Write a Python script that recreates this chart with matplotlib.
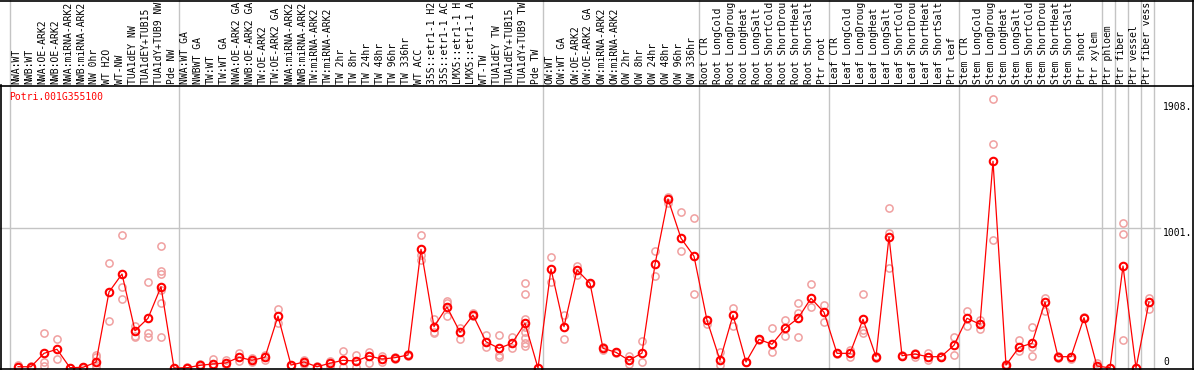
import matplotlib
matplotlib.use("Agg")
import matplotlib.pyplot as plt
from matplotlib.lines import Line2D
from matplotlib.transforms import blended_transform_factory

gene_id = "Potri.001G355100"

# sample names as shown in the reference (truncated to 14 characters)
samples = [
    "NWA:WT", "NWB:WT", "NWA:OE-ARK2", "NWB:OE-ARK2", "NWA:miRNA-ARK2", "NWB:miRNA-ARK2",
    "NW 0hr", "WT H2O", "WT-NW", "TUA1dEY NW", "TUA1dEY+TUB15", "TUA1dY+TUB9 NW", "Pde NW",
    "NWA:WT GA", "NWBWT GA", "TW:WT", "TW:WT GA", "NWA:OE-ARK2 GA", "NWB:OE-ARK2 GA",
    "TW:OE-ARK2", "TW:OE-ARK2 GA", "NWA:miRNA-ARK2", "NWB:miRNA-ARK2", "TW:miRNA-ARK2",
    "TW:miRNA-ARK2", "TW 2hr", "TW 8hr", "TW 24hr", "TW 48hr", "TW 96hr", "TW 336hr",
    "WT ACC", "35S::etr1-1 H2", "35S::etr1-1 AC", "LMX5::etr1-1 H", "LMX5::etr1-1 A",
    "WT-TW", "TUA1dEY TW", "TUA1dEY+TUB15", "TUA1dY+TUB9 TW", "Pde TW",
    "OW:WT", "OW:WT GA", "OW:OE-ARK2", "OW:OE-ARK2 GA", "OW:miRNA-ARK2", "OW:miRNA-ARK2",
    "OW 2hr", "OW 8hr", "OW 24hr", "OW 48hr", "OW 96hr", "OW 336hr",
    "Root CTR", "Root LongCold", "Root LongDroug", "Root LongHeat", "Root LongSalt",
    "Root ShortCold", "Root ShortDrou", "Root ShortHeat", "Root ShortSalt", "Ptr root",
    "Leaf CTR", "Leaf LongCold", "Leaf LongDroug", "Leaf LongHeat", "Leaf LongSalt",
    "Leaf ShortCold", "Leaf ShortDrou", "Leaf ShortHeat", "Leaf ShortSalt", "Ptr leaf",
    "Stem CTR", "Stem LongCold", "Stem LongDroug", "Stem LongHeat", "Stem LongSalt",
    "Stem ShortCold", "Stem ShortDrou", "Stem ShortHeat", "Stem ShortSalt", "Ptr shoot",
    "Ptr xylem", "Ptr phloem", "Ptr fiber", "Ptr vessel", "Ptr fiber vess",
]

group_sizes = [13, 28, 12, 10, 10, 11, 1, 1, 1, 1]

mean_values = [
    9, 9, 105, 134, 2, 5, 41, 544, 673, 267, 356, 582, 0,
    2, 19, 29, 36, 77, 55, 77, 372, 21, 43, 9, 34, 55, 50, 86, 64, 74, 93,
    850, 296, 437, 256, 379, 188, 141, 177, 320, 0,
    709, 296, 702, 606, 141, 112, 55, 107, 742, 1210, 929, 800,
    342, 55, 379, 43, 205, 170, 284, 356, 499, 399,
    105, 105, 349, 81, 940, 88, 100, 81, 81, 163,
    356, 313, 1480, 21, 148, 177, 473, 81, 81, 360, 14,
    1, 730, 0, 473,
]

replicate_values = [
    [25, 5], [15, 3], [253, 45, 14], [205, 62], [3, 0], [8, 2], [93, 81, 20, 5],
    [752, 337], [952, 578, 492], [301, 224, 230], [614, 248, 224],
    [874, 695, 673, 558, 463, 220], [0],
    [4, 0], [28, 10], [62, 5], [55, 20], [105, 52], [70, 40], [95, 55], [425, 324],
    [25, 15], [57, 29], [15, 3], [52, 14], [122, 5], [93, 8], [117, 38], [86, 45],
    [82, 66], [98, 86], [950, 809, 773], [351, 260, 248], [482, 468, 372], [289, 205],
    [396, 372], [236, 148], [236, 93, 81], [224, 145],
    [606, 528, 349, 296, 260, 213, 181, 160], [0],
    [793, 618], [379, 208], [730, 666], [610, 600], [150, 130], [115, 108], [88, 26],
    [193, 43], [838, 661], [1227, 1179], [1115, 838], [1072, 528],
    [315, 345], [117, 21], [427, 303], [45, 40], [210, 200], [284, 117], [344, 231],
    [463, 392, 220], [599, 435], [451, 327],
    [108, 100], [129, 81], [528, 272, 248], [85, 75], [1143, 964, 718], [92, 85],
    [110, 81], [105, 57], [85, 78], [220, 93],
    [408, 301], [344, 277], [1925, 1602, 915], [28, 8], [200, 122], [291, 153, 88],
    [503, 410], [85, 70], [80, 65], [365, 355], [38, 0],
    [0], [1036, 959, 200], [0], [499, 420],
]

ytick_values = [1908, 1001, 0]
ytick_labels = ["1908.", "1001.", "0"]

# ---------------------------------------------------------------------------
W, H = 1194, 370
fig = plt.figure(figsize=(W / 100, H / 100), dpi=100)
ax = fig.add_axes([0, 0, 1, 1])
ax.set_axis_off()

# pixel geometry -> data limits
px0, step = 18.0, 13.0            # pixel x of first sample, sample spacing
y0_px, upp = 368.0, 7.16          # pixel y of value 0, units per pixel
ax.set_xlim(-px0 / step, (W - px0) / step)
ax.set_ylim(-(H - y0_px) * upp, y0_px * upp)

mono = "DejaVu Sans Mono"
fs = 7.0
red = "#ff0000"
pink = "#f0a0a0"
grid = "#c4c4c4"

n = len(samples)
xs = list(range(n))

# group separators (gray, full height)
edges = [-0.5]
for g in group_sizes:
    edges.append(edges[-1] + g)
for e in edges:
    ax.axvline(e - 0.1, color=grid, lw=1.0, zorder=1)

# horizontal gridline at middle tick
plot_right = (1160 - px0) / step
xl = ax.get_xlim()
ax.plot([xl[0], plot_right], [ytick_values[1], ytick_values[1]], color=grid, lw=1.0, zorder=1)

# replicates
for i, reps in enumerate(replicate_values):
    ax.plot([xs[i]] * len(reps), reps, linestyle="none", marker="o", ms=5.2,
            mfc="none", mec=pink, mew=1.1, zorder=3, clip_on=False)

# mean line
ax.plot(xs, mean_values, color=red, lw=0.9, zorder=4, clip_on=False)
ax.plot(xs, mean_values, linestyle="none", marker="o", ms=5.4, mfc="none",
        mec=red, mew=1.5, zorder=5, clip_on=False)

# header labels (rotated sample names)
trans_lab = blended_transform_factory(ax.transData, fig.transFigure)
for i, s in enumerate(samples):
    ax.text(xs[i] - 0.15, 1 - 83.5 / H, s, transform=trans_lab, rotation=90,
            ha="center", va="bottom", family=mono, fontsize=fs, color="black",
            zorder=6)

# title
ax.text(9 / W, 1 - 97 / H, gene_id, transform=fig.transFigure, ha="left",
        va="center", family=mono, fontsize=fs, color=red, zorder=6)

# right-side value labels
trans_r = blended_transform_factory(fig.transFigure, ax.transData)
offs = [-5 * upp, -5 * upp, 6 * upp]
for v, lab, o in zip(ytick_values, ytick_labels, offs):
    ax.text(1163 / W, v + o, lab, transform=trans_r, ha="left", va="center",
            family=mono, fontsize=fs, color="black", zorder=6)

# black frame lines
def fline(x0, y0, x1, y1):
    fig.add_artist(Line2D([x0 / W, x1 / W], [1 - y0 / H, 1 - y1 / H],
                          transform=fig.transFigure, color="black", lw=1.2, zorder=10))

fline(0, 0.5, W, 0.5)          # top
fline(0, 85.5, W, 85.5)        # header separator
fline(0, 368.8, W, 368.8)      # bottom
fline(0.8, 85, 0.8, H)         # left (plot area)
fline(W - 1.0, 0, W - 1.0, H)  # right

fig.savefig("out.png", dpi=100)
